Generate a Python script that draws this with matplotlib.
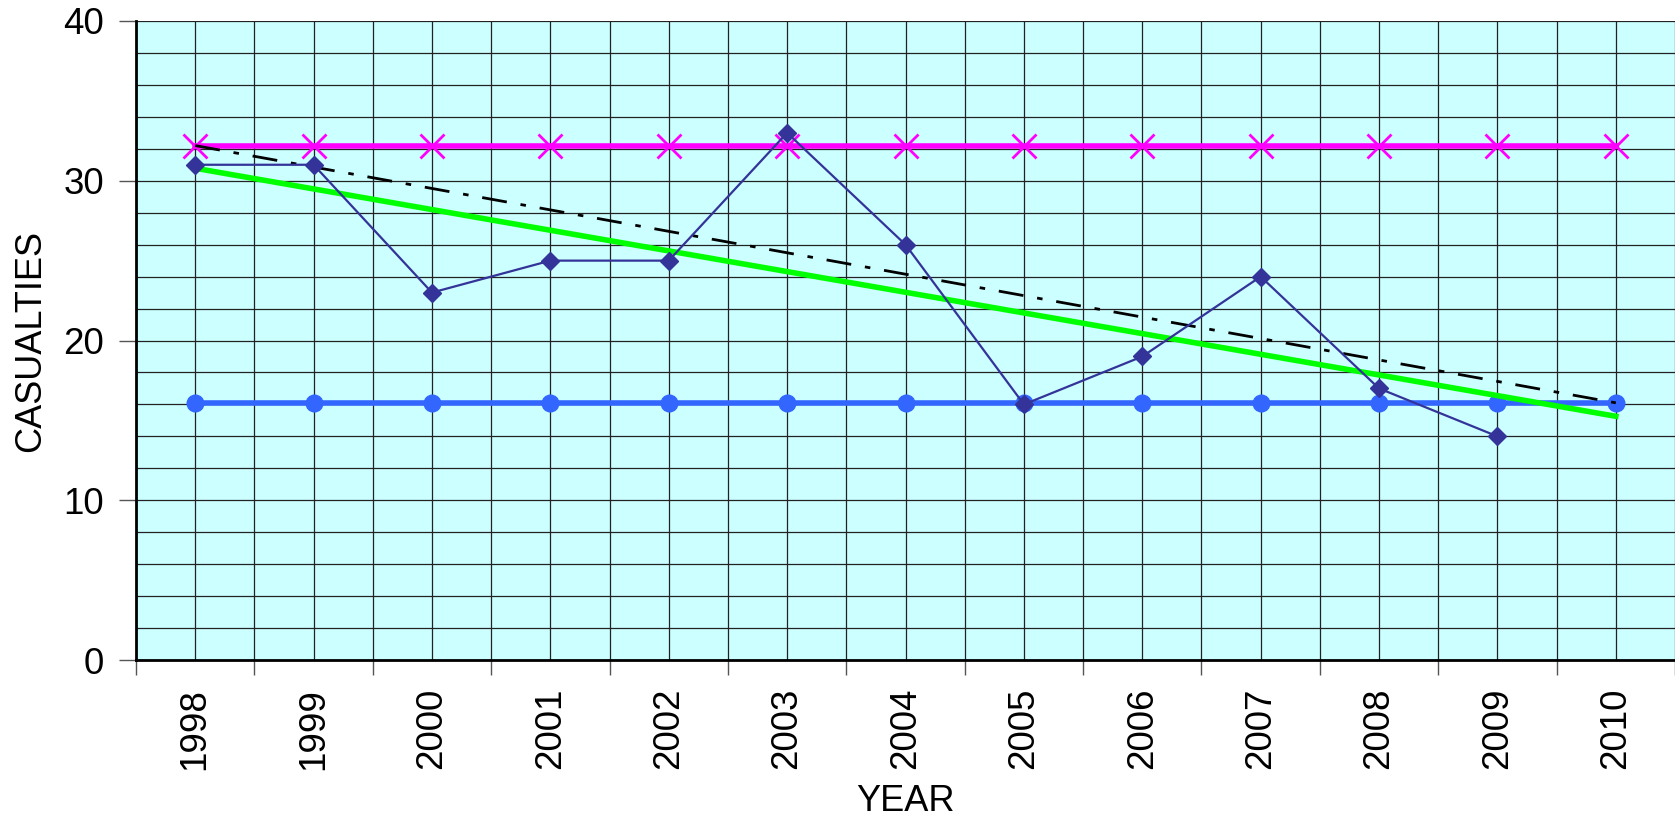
import matplotlib

matplotlib.use("Agg")

import matplotlib.pyplot as plt
import numpy as np
from matplotlib.ticker import FixedLocator, MultipleLocator

plt.rcParams["font.family"] = ["Liberation Sans", "DejaVu Sans"]

years = ["1998", "1999", "2000", "2001", "2002", "2003", "2004",
         "2005", "2006", "2007", "2008", "2009", "2010"]
casualties = [31, 31, 23, 25, 25, 33, 26, 16, 19, 24, 17, 14]
upper_level = 32.2
lower_level = 16.1
target_start = 32.2
target_end = 16.1

x = np.arange(len(years))
x_data = x[: len(casualties)]

# linear trendline fitted through the observed casualties
slope, intercept = np.polyfit(x_data, casualties, 1)
trend = slope * x + intercept
target = np.linspace(target_start, target_end, len(years))

fig = plt.figure(figsize=(16.75, 8.22), dpi=100)
ax = fig.add_axes([0.0812, 0.197, 0.9188, 0.7775])
ax.set_facecolor("#CCFFFF")

ax.plot(x, [upper_level] * len(x), color="#FF00FF", linewidth=4,
        marker="x", markersize=17, markeredgewidth=2, zorder=3)
ax.plot(x, [lower_level] * len(x), color="#3366FF", linewidth=4,
        marker="o", markersize=12, zorder=3)
ax.plot(x, target, color="black", linewidth=2, linestyle=(0, (9, 5, 2, 5)),
        zorder=4)
ax.plot(x, trend, color="#00FF00", linewidth=4, zorder=4)
ax.plot(x_data, casualties, color="#333399", linewidth=1.6,
        marker="D", markersize=9, zorder=5)

ax.set_xlim(-0.5, len(years) - 0.5)
ax.set_ylim(0, 40)

ax.xaxis.set_major_locator(FixedLocator(x))
ax.xaxis.set_minor_locator(FixedLocator(np.arange(len(years) + 1) - 0.5))
ax.set_xticklabels(years, rotation=90)
ax.tick_params(axis="x", which="major", length=0, pad=20, labelsize=26.5)
ax.tick_params(axis="x", which="minor", length=11, width=1, color="#555555")

ax.yaxis.set_major_locator(MultipleLocator(10))
ax.yaxis.set_minor_locator(MultipleLocator(2))
ax.tick_params(axis="y", which="major", length=12, width=1, pad=11,
               labelsize=26.5, color="#555555")
ax.tick_params(axis="y", which="minor", length=0)

ax.grid(True, which="both", color="#222222", linewidth=0.9)
ax.set_axisbelow(True)

for side in ["top", "right"]:
    ax.spines[side].set_visible(False)
ax.spines["left"].set_linewidth(2)
ax.spines["bottom"].set_linewidth(2)

ax.set_xlabel("YEAR", fontsize=26, labelpad=10)
ax.set_ylabel("CASUALTIES", fontsize=26, labelpad=11)

fig.savefig("out.png", dpi=100)
